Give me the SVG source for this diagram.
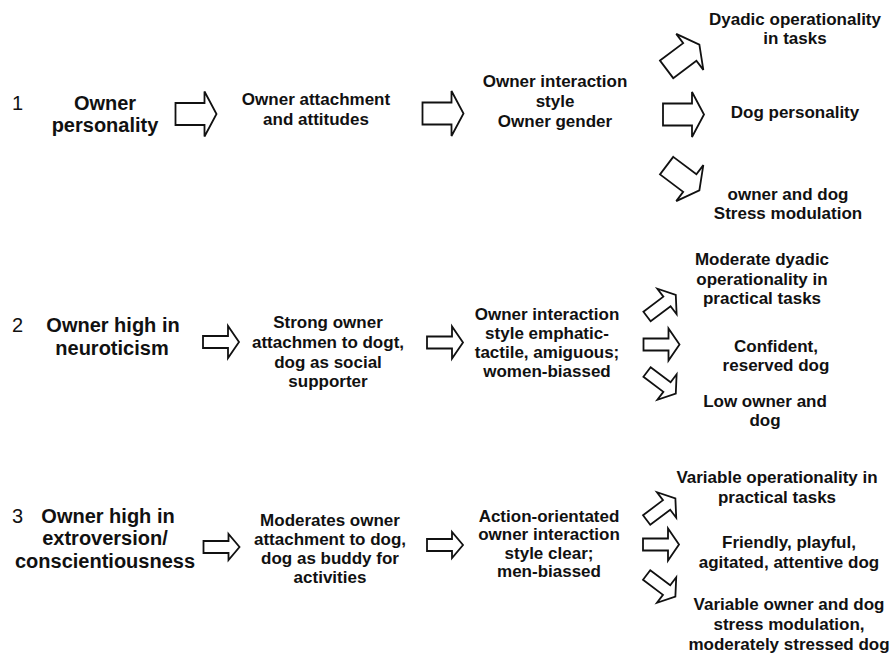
<svg xmlns="http://www.w3.org/2000/svg" xmlns:xlink="http://www.w3.org/1999/xlink" width="893" height="655" viewBox="0 0 893 655">
<style>
text{font-family:"Liberation Sans",Arial,sans-serif;fill:#111;}
.lead{font-size:20px;font-weight:bold;text-anchor:middle;}
.num{font-size:20px;font-weight:normal;}
.t{font-size:17px;font-weight:bold;text-anchor:middle;}
.arr{fill:#fff;stroke:#111;stroke-width:1.8;stroke-linejoin:miter;}
</style>
<defs>
<path id="arrA" class="arr" d="M-20.5,-11 H8.5 V-22.5 L20.5,0 L8.5,22.5 V11 H-20.5 Z"/>
<path id="arrB" class="arr" d="M-18,-6 H7 V-16 L18,0 L7,16 V6 H-18 Z"/>
<path id="arrC" class="arr" d="M-18,-6 H7 V-13 L18,0 L7,13 V6 H-18 Z"/>
</defs>
<rect width="893" height="655" fill="#fff"/>

<g id="connectors">
<use xlink:href="#arrA" href="#arrA" transform="translate(196,114)"/>
<use xlink:href="#arrA" href="#arrA" transform="translate(443,113.5)"/>
<use xlink:href="#arrA" href="#arrA" transform="translate(683,57) rotate(-37)"/>
<use xlink:href="#arrA" href="#arrA" transform="translate(683.5,114.5)"/>
<use xlink:href="#arrA" href="#arrA" transform="translate(683,178) rotate(37)"/>

<use xlink:href="#arrB" href="#arrB" transform="translate(221,342)"/>
<use xlink:href="#arrB" href="#arrB" transform="translate(445,342.5)"/>
<use xlink:href="#arrB" href="#arrB" transform="translate(661.4,305.7) rotate(-37)"/>
<use xlink:href="#arrB" href="#arrB" transform="translate(661.5,344.5)"/>
<use xlink:href="#arrB" href="#arrB" transform="translate(661.4,382.8) rotate(37)"/>

<use xlink:href="#arrC" href="#arrC" transform="translate(221.5,547)"/>
<use xlink:href="#arrC" href="#arrC" transform="translate(445,545)"/>
<use xlink:href="#arrB" href="#arrB" transform="translate(661,509.2) rotate(-37)"/>
<use xlink:href="#arrB" href="#arrB" transform="translate(661,544.5)"/>
<use xlink:href="#arrB" href="#arrB" transform="translate(661,585.8) rotate(37)"/>
</g>

<g id="row1-number"><text class="num" x="12" y="110">1</text></g>
<g id="row1-personality"><text class="lead" x="105" y="110">Owner</text><text class="lead" x="105" y="132">personality</text></g>
<g id="row1-attachment"><text class="t" x="316" y="105">Owner attachment</text><text class="t" x="316" y="125">and attitudes</text></g>
<g id="row1-interaction"><text class="t" x="555" y="87">Owner interaction</text><text class="t" x="555" y="107">style</text><text class="t" x="555" y="127">Owner gender</text></g>
<g id="row1-operationality"><text class="t" x="795" y="25">Dyadic operationality</text><text class="t" x="795" y="44">in tasks</text></g>
<g id="row1-dog-personality"><text class="t" x="795" y="118">Dog personality</text></g>
<g id="row1-stress"><text class="t" x="788" y="200">owner and dog</text><text class="t" x="788" y="219">Stress modulation</text></g>

<g id="row2-number"><text class="num" x="12" y="332">2</text></g>
<g id="row2-neuroticism"><text class="lead" x="113" y="332">Owner high in</text><text class="lead" x="112" y="355">neuroticism</text></g>
<g id="row2-attachment"><text class="t" x="328" y="328">Strong owner</text><text class="t" x="328" y="348">attachmen to dogt,</text><text class="t" x="328" y="368">dog as social</text><text class="t" x="328" y="387">supporter</text></g>
<g id="row2-interaction"><text class="t" x="547" y="320">Owner interaction</text><text class="t" x="547" y="339">style emphatic-</text><text class="t" x="547" y="358">tactile, amiguous;</text><text class="t" x="547" y="377">women-biassed</text></g>
<g id="row2-operationality"><text class="t" x="762" y="265">Moderate dyadic</text><text class="t" x="762" y="285">operationality in</text><text class="t" x="762" y="304">practical tasks</text></g>
<g id="row2-dog"><text class="t" x="776" y="352">Confident,</text><text class="t" x="776" y="371">reserved dog</text></g>
<g id="row2-stress"><text class="t" x="765" y="407">Low owner and</text><text class="t" x="765" y="426">dog</text></g>

<g id="row3-number"><text class="num" x="12" y="523">3</text></g>
<g id="row3-extroversion"><text class="lead" x="108" y="523">Owner high in</text><text class="lead" x="105" y="545">extroversion/</text><text class="lead" x="105" y="568">conscientiousness</text></g>
<g id="row3-attachment"><text class="t" x="330" y="526">Moderates owner</text><text class="t" x="330" y="545">attachment to dog,</text><text class="t" x="330" y="564">dog as buddy for</text><text class="t" x="330" y="583">activities</text></g>
<g id="row3-interaction"><text class="t" x="549" y="522">Action-orientated</text><text class="t" x="549" y="540">owner interaction</text><text class="t" x="549" y="559">style clear;</text><text class="t" x="549" y="577">men-biassed</text></g>
<g id="row3-operationality"><text class="t" x="777" y="483">Variable operationality in</text><text class="t" x="777" y="503">practical tasks</text></g>
<g id="row3-dog"><text class="t" x="789" y="548">Friendly, playful,</text><text class="t" x="789" y="568">agitated, attentive dog</text></g>
<g id="row3-stress"><text class="t" x="789" y="610">Variable owner and dog</text><text class="t" x="789" y="630">stress modulation,</text><text class="t" x="789" y="650">moderately stressed dog</text></g>
</svg>
